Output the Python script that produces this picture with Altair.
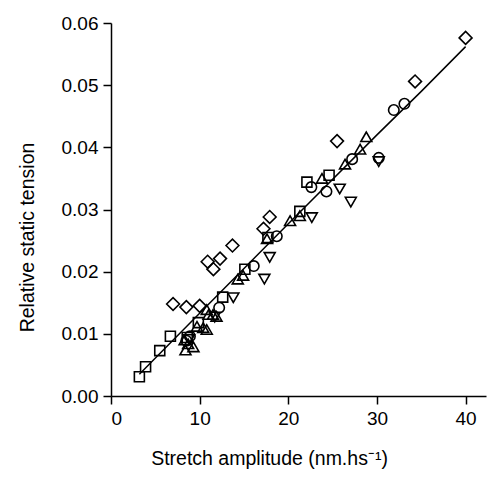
import altair as alt
import pandas as pd

# ---- data ----
sq_x = [3.2, 3.9, 5.5, 6.7, 8.6, 9.85, 12.6, 15.1, 17.7, 21.3, 22.1, 24.6]
sq_y = [0.0031, 0.0047, 0.0073, 0.0096, 0.0094, 0.0118, 0.0159, 0.0204, 0.0255, 0.0297, 0.0344, 0.0355]

ci_x = [8.5, 8.9, 12.2, 16.1, 18.7, 22.6, 24.3, 27.2, 30.2, 31.9, 33.1]
ci_y = [0.0089, 0.0096, 0.0142, 0.0209, 0.0257, 0.0336, 0.0329, 0.0381, 0.0383, 0.0460, 0.0470]

di_x = [7.0, 8.5, 10.0, 10.9, 11.55, 12.3, 13.7, 17.2, 17.9, 25.5, 34.3, 40.0]
di_y = [0.0148, 0.0143, 0.0145, 0.0216, 0.0204, 0.0221, 0.0242, 0.0269, 0.0288, 0.0410, 0.0506, 0.0576]

tu_x = [8.4, 9.3, 8.7, 8.3, 9.7, 10.4, 10.8, 10.8, 11.0, 11.5, 11.9, 14.3, 14.9, 17.6, 20.2, 21.3, 23.8, 26.4, 28.1, 28.8]
tu_y = [0.0074, 0.0079, 0.0084, 0.0090, 0.0112, 0.0110, 0.0107, 0.0139, 0.0131, 0.0131, 0.0128, 0.0188, 0.0194, 0.0253, 0.0282, 0.0290, 0.0350, 0.0373, 0.0397, 0.0417]

td_x = [8.8, 11.7, 13.8, 17.3, 17.9, 22.65, 25.8, 27.05, 30.2]
td_y = [0.0091, 0.0127, 0.0158, 0.0188, 0.0223, 0.0287, 0.0333, 0.0312, 0.0377]

fit_x = [3.2, 10.0, 20.0, 30.0, 35.0, 40.0]
fit_y = [0.0035, 0.0133, 0.0277, 0.0420, 0.0490, 0.0562]

x_ticks = [0, 10, 20, 30, 40]
y_ticks = [0.0, 0.01, 0.02, 0.03, 0.04, 0.05, 0.06]

series = [
    ("square", sq_x, sq_y, 100),
    ("circle", ci_x, ci_y, 110),
    ("diamond", di_x, di_y, 165),
    ("triangle-up", tu_x, tu_y, 120),
    ("triangle-down", td_x, td_y, 120),
]

FONT = "Liberation Sans"
x_scale = alt.Scale(domain=[0, 42.3], nice=False, zero=False)
y_scale = alt.Scale(domain=[0, 0.06], nice=False)

x_axis = alt.Axis(values=x_ticks, title="Stretch amplitude (nm.hs⁻¹)", format="d",
                  titleX=158, titleY=62, titleBaseline="middle")
y_axis = alt.Axis(values=y_ticks, title="Relative static tension", format=".2f",
                  titleX=-84, titleY=214, titleBaseline="middle")

fit = pd.DataFrame({"x": fit_x, "y": fit_y})
layers = [alt.Chart(fit).mark_line(color="black", strokeWidth=1.5).encode(
    x=alt.X("x:Q", scale=x_scale, axis=x_axis),
    y=alt.Y("y:Q", scale=y_scale, axis=y_axis),
)]

for name, xs, ys, sz in series:
    df = pd.DataFrame({"x": xs, "y": ys})
    layers.append(
        alt.Chart(df).mark_point(shape=name, size=sz, filled=False, color="black",
                                 strokeWidth=1.6, opacity=1).encode(
            x=alt.X("x:Q", scale=x_scale, axis=x_axis),
            y=alt.Y("y:Q", scale=y_scale, axis=y_axis),
        )
    )

chart = alt.layer(*layers).properties(
    width=375, height=373,
    autosize=alt.AutoSizeParams(type="none"),
    padding={"left": 111, "top": 23, "right": 1, "bottom": 87},
    background="white",
).configure_view(stroke=None).configure_axis(
    grid=False,
    domainColor="black", domainWidth=1.5,
    tickColor="black", tickWidth=1.5, tickSize=8,
    labelColor="black", labelFont=FONT, labelFontSize=19, labelPadding=5,
    titleColor="black", titleFont=FONT, titleFontSize=19.5, titleFontWeight="normal",
)

chart.save("out.html", embed_options={"renderer": "svg", "actions": False})
